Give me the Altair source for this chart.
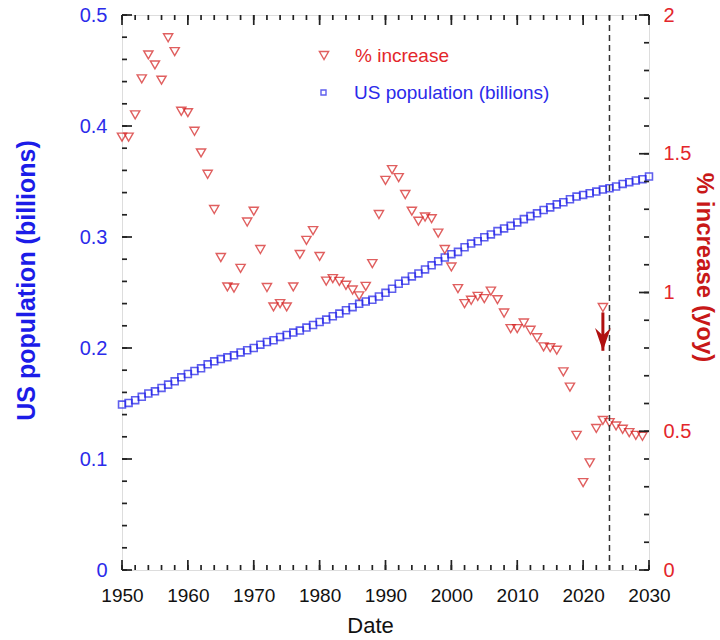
import altair as alt
import pandas as pd

# ---------------- data ----------------
pop_years = list(range(1950, 2031))
pop = [0.149, 0.1505, 0.153, 0.156, 0.159, 0.161, 0.164, 0.167, 0.170, 0.1736,
       0.1766, 0.1793, 0.1817, 0.1853, 0.188, 0.190, 0.1916, 0.1934, 0.196, 0.198,
       0.200, 0.203, 0.2054, 0.207, 0.210, 0.2117, 0.2139, 0.2157, 0.2184, 0.2207,
       0.2234, 0.2256, 0.2286, 0.231, 0.234, 0.2368, 0.2398, 0.2419, 0.2434, 0.2464,
       0.2497, 0.2534, 0.2579, 0.2605, 0.2645, 0.2672, 0.2708, 0.2745, 0.2781, 0.2815,
       0.2845, 0.2866, 0.2908, 0.2941, 0.2962, 0.2998, 0.3023, 0.3053, 0.3077, 0.3101,
       0.3131, 0.3161, 0.3188, 0.3213, 0.3243, 0.3267, 0.3294, 0.3313, 0.334, 0.3364,
       0.3379, 0.3394, 0.3409, 0.3427, 0.3439, 0.3455, 0.3478, 0.3494, 0.3509, 0.3521,
       0.3545]

pct_years = list(range(1950, 2030))
pct = [1.56, 1.56, 1.64, 1.77, 1.856, 1.82, 1.765, 1.918, 1.868, 1.653,
       1.648, 1.581, 1.503, 1.426, 1.299, 1.126, 1.020, 1.016, 1.087, 1.254,
       1.293, 1.155, 1.018, 0.948, 0.960, 0.948, 1.020, 1.137, 1.188, 1.223,
       1.130, 1.041, 1.050, 1.040, 1.026, 1.009, 0.988, 1.022, 1.104, 1.281,
       1.404, 1.443, 1.414, 1.353, 1.293, 1.257, 1.272, 1.266, 1.214, 1.155,
       1.092, 1.014, 0.960, 0.972, 0.986, 0.978, 1.005, 0.974, 0.926, 0.870,
       0.870, 0.890, 0.864, 0.837, 0.804, 0.801, 0.792, 0.714, 0.659, 0.485,
       0.315, 0.386, 0.510, 0.539, 0.531, 0.519, 0.507, 0.495, 0.485, 0.482]
extra_years = [2023]
extra_pct = [0.946]

marker_year = [2024]
arrow_year = [2023]
arrow_from = [0.928]
arrow_to = [0.79]

x_major = list(range(1950, 2031, 10))
x_minor = list(range(1950, 2031, 2))
yl_major = [0, 0.1, 0.2, 0.3, 0.4, 0.5]
yl_minor = [round(i * 0.02, 2) for i in range(26)]
yr_major = [0, 0.5, 1, 1.5, 2]
yr_minor = [round(i * 0.1, 1) for i in range(21)]

# ---------------- styling ----------------
W, H = 527, 555
BLUE = "#1c1ce8"
BLUE_T = "#2b2bea"
RED = "#d41c1c"
RED_T = "#e3262b"
TICK = "#222222"
FONT = "Liberation Sans"
MAJ, MIN = 10, 5

df_pop = pd.DataFrame({"year": pop_years, "pop": pop,
                       "series": ["US population (billions)"] * len(pop_years)})
df_pct = pd.DataFrame({"year": pct_years + extra_years, "pct": pct + extra_pct,
                       "series": ["% increase"] * (len(pct_years) + len(extra_years))})
df_mark = pd.DataFrame({"year": marker_year})
df_arrow = pd.DataFrame({"year": arrow_year, "y1": arrow_from, "y2": arrow_to})


def xsc():
    return alt.Scale(domain=[1950, 2030], nice=False, zero=False)


def ysc(d):
    return alt.Scale(domain=d, nice=False, zero=False)


def label_axis(orient, values, **kw):
    base = dict(orient=orient, values=values, domain=False, grid=False, ticks=False,
                tickSize=0, labelFlush=False, labelOverlap=False,
                labelFont=FONT, titleFont=FONT)
    base.update(kw)
    return alt.Axis(**base)


def tick_layer(values, length, side):
    d = pd.DataFrame({"v": values})
    base = alt.Chart(d).mark_rule(color=TICK, strokeWidth=1.7, opacity=1)
    if side == "bottom":
        return base.encode(x=alt.X("v:Q", scale=xsc(), axis=None),
                           y=alt.value(H), y2=alt.value(H - length))
    if side == "top":
        return base.encode(x=alt.X("v:Q", scale=xsc(), axis=None),
                           y=alt.value(0), y2=alt.value(length))
    if side == "left":
        return base.encode(y=alt.Y("v:Q", scale=ysc([0, 0.5]), axis=None),
                           x=alt.value(0), x2=alt.value(length))
    return base.encode(y=alt.Y("v:Q", scale=ysc([0, 2]), axis=None),
                       x=alt.value(W), x2=alt.value(W - length))


# population squares: bottom x labels, left y labels
pop_layer = alt.Chart(df_pop).mark_point(
    shape="square", filled=False, size=48, strokeWidth=1.6
).encode(
    x=alt.X("year:Q", scale=xsc(),
            axis=label_axis("bottom", x_major, format="d", labelFontSize=19,
                            labelColor="#111111", labelPadding=16,
                            title="Date", titleFontSize=22, titleFontWeight="normal",
                            titleColor="#111111", titlePadding=10, titleX=248)),
    y=alt.Y("pop:Q", scale=ysc([0, 0.5]),
            axis=label_axis("left", yl_major, format="~g", labelFontSize=20,
                            labelColor=BLUE_T, labelPadding=15,
                            title="US population (billions)", titleFontSize=25,
                            titleFontWeight="bold", titleColor=BLUE, titlePadding=40,
                            titleY=265)),
    stroke=alt.Stroke("series:N",
                      scale=alt.Scale(domain=["US population (billions)"], range=[BLUE]),
                      legend=alt.Legend(orient="none", legendX=192, legendY=68, title=None,
                                        symbolType="square", symbolSize=25,
                                        symbolStrokeWidth=1.4, labelFontSize=19,
                                        labelFont=FONT, labelColor=BLUE_T, labelOffset=21,
                                        labelLimit=0, padding=0)),
)

# percent triangles: right y labels
pct_layer = alt.Chart(df_pct).mark_point(
    shape="triangle-down", filled=False, size=85, strokeWidth=1.4
).encode(
    x=alt.X("year:Q", scale=xsc(), axis=None),
    y=alt.Y("pct:Q", scale=ysc([0, 2]),
            axis=label_axis("right", yr_major, format="~g", labelFontSize=20,
                            labelColor=RED_T, labelPadding=14,
                            title="% increase (yoy)", titleFontSize=24,
                            titleFontWeight="bold", titleColor="#c81818", titlePadding=1,
                            titleY=252)),
    color=alt.Color("series:N",
                    scale=alt.Scale(domain=["% increase"], range=[RED]),
                    legend=alt.Legend(orient="none", legendX=192.5, legendY=31, title=None,
                                      symbolType="triangle-down", symbolSize=85,
                                      symbolStrokeWidth=1.4, labelFontSize=19,
                                      labelFont=FONT, labelColor=RED_T, labelOffset=21.5,
                                      labelLimit=0, padding=0)),
)

ticks = [
    tick_layer(x_minor, MIN, "bottom"), tick_layer(x_major, MAJ, "bottom"),
    tick_layer(x_minor, MIN, "top"), tick_layer(x_major, MAJ, "top"),
    tick_layer(yl_minor, MIN, "left"), tick_layer(yl_major, MAJ, "left"),
    tick_layer(yr_minor, MIN, "right"), tick_layer(yr_major, MAJ, "right"),
]

marker = alt.Chart(df_mark).mark_rule(
    color="#333333", strokeWidth=1.5, strokeDash=[6, 4]
).encode(x=alt.X("year:Q", scale=xsc(), axis=None))

arrow_shaft = alt.Chart(df_arrow).mark_rule(color="#b01010", strokeWidth=3).encode(
    x=alt.X("year:Q", scale=xsc(), axis=None),
    y=alt.Y("y1:Q", scale=ysc([0, 2]), axis=None),
    y2="y2:Q",
)
arrow_head = alt.Chart(df_arrow).mark_point(
    shape="M0,0L-0.36,-1.05L0,-0.7L0.36,-1.05Z", filled=True, size=1900,
    color="#b01010", opacity=1, strokeWidth=1
).encode(
    x=alt.X("year:Q", scale=xsc(), axis=None),
    y=alt.Y("y2:Q", scale=ysc([0, 2]), axis=None),
)

chart = alt.layer(
    pop_layer, pct_layer, marker, arrow_shaft, arrow_head, *ticks
).resolve_scale(
    x="independent", y="independent", color="independent", stroke="independent"
).properties(
    width=W, height=H,
    autosize=alt.AutoSizeParams(type="none"),
    padding={"left": 122, "top": 15, "right": 71, "bottom": 70},
    background="white",
).configure_view(
    stroke="#444444", strokeWidth=1.5
).configure(font=FONT)

chart.save("out.html", embed_options={"renderer": "svg", "actions": False})
